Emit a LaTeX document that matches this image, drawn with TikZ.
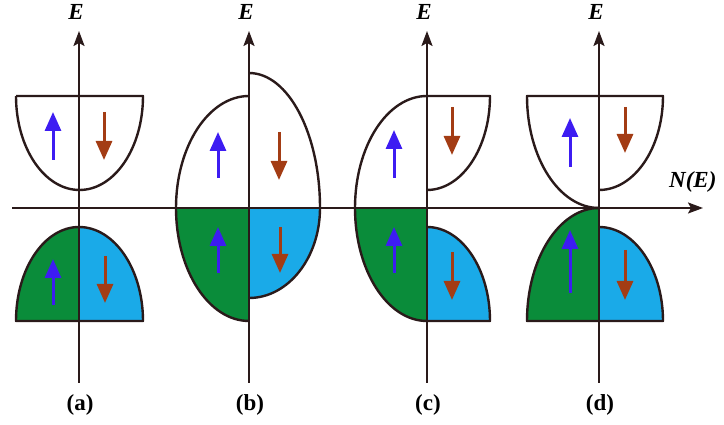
\documentclass[tikz,border=0pt]{standalone}
\usepackage{fontspec}
\setmainfont{Liberation Serif}
\usetikzlibrary{arrows.meta}
\definecolor{axiscol}{HTML}{2A1A1A}
\definecolor{spinblue}{HTML}{3D1CF2}
\definecolor{spinbrown}{HTML}{A33C14}
\definecolor{bandgreen}{HTML}{0A8C3A}
\definecolor{bandblue}{HTML}{1AAAE8}
\tikzset{
  outline/.style={draw=axiscol, line width=2.4pt, line join=round},
  axisline/.style={draw=axiscol, line width=2.2pt, -{Stealth[length=15pt,width=11pt,inset=3pt]}},
  spinup/.style={draw=spinblue, line width=3pt, -{Triangle[length=19pt,width=16pt]}, fill=spinblue},
  spindown/.style={draw=spinbrown, line width=3pt, -{Triangle[length=19pt,width=16pt]}, fill=spinbrown},
  elabel/.style={font=\fontsize{23}{25}\selectfont\bfseries\itshape, text=black, inner sep=0pt},
  panel/.style={font=\fontsize{23}{25}\selectfont\bfseries, text=black, inner sep=0pt}
}
\begin{document}
\begin{tikzpicture}[x=1pt,y=1pt]
\useasboundingbox (0,0) rectangle (724,425);
% ---------- fills ----------
% (a)
\fill[bandgreen] (16,104) arc[start angle=180,end angle=90,x radius=63,y radius=94] -- (79,104) -- cycle;
\fill[bandblue] (79,198) arc[start angle=90,end angle=0,x radius=64,y radius=94] -- (79,104) -- cycle;
% (b)
\fill[bandgreen] (176,217) arc[start angle=180,end angle=270,x radius=73,y radius=113] -- (249,217) -- cycle;
\fill[bandblue] (320,217) arc[start angle=0,end angle=-90,x radius=71,y radius=90] -- (249,217) -- cycle;
% (c)
\fill[bandgreen] (355,217) arc[start angle=180,end angle=270,x radius=72,y radius=113] -- (427,217) -- cycle;
\fill[bandblue] (427,198) arc[start angle=90,end angle=0,x radius=63,y radius=94] -- (427,104) -- cycle;
% (d)
\fill[bandgreen] (599,217) arc[start angle=90,end angle=180,x radius=72,y radius=113] -- (599,104) -- cycle;
\fill[bandblue] (599,198) arc[start angle=90,end angle=0,x radius=64,y radius=94] -- (599,104) -- cycle;
% ---------- outlines ----------
% (a)
\draw[outline] (16,329) -- (143,329) arc[start angle=0,end angle=-180,x radius=63.5,y radius=94];
\draw[outline] (16,104) arc[start angle=180,end angle=90,x radius=63,y radius=94]
  arc[start angle=90,end angle=0,x radius=64,y radius=94] -- cycle;
% (b)
\draw[outline] (249,329) arc[start angle=90,end angle=180,x radius=73,y radius=112]
  arc[start angle=180,end angle=270,x radius=73,y radius=113];
\draw[outline] (249,352) arc[start angle=90,end angle=0,x radius=71,y radius=135]
  arc[start angle=0,end angle=-90,x radius=71,y radius=90];
% (c)
\draw[outline] (427,329) arc[start angle=90,end angle=180,x radius=72,y radius=112]
  arc[start angle=180,end angle=270,x radius=72,y radius=113];
\draw[outline] (427,329) -- (490,329) arc[start angle=0,end angle=-90,x radius=63,y radius=94];
\draw[outline] (427,198) arc[start angle=90,end angle=0,x radius=63,y radius=94] -- (427,104);
% (d)
\draw[outline] (599,329) -- (527,329) arc[start angle=180,end angle=270,x radius=72,y radius=112];
\draw[outline] (599,329) -- (663,329) arc[start angle=0,end angle=-90,x radius=64,y radius=94];
\draw[outline] (599,217) arc[start angle=90,end angle=180,x radius=72,y radius=113] -- (599,104);
\draw[outline] (599,198) arc[start angle=90,end angle=0,x radius=64,y radius=94] -- (599,104);
% ---------- axes ----------
\coordinate (hstart) at (12,217);
\coordinate (hend) at (703,217);
\draw[axisline] (hstart) -- (hend);
\foreach \n/\x in {a/79,b/249,c/427,d/599}{
  \coordinate (\n bot) at (\x,42);
  \coordinate (\n top) at (\x,394);
  \draw[axisline] (\n bot) -- (\n top);
  \node[elabel] (E\n) at (\x-3,413) {E};
  \node[panel] (lab\n) at (\x+1,20) {(\n)};
}
\node[elabel, anchor=west] (NE) at (669,243) {N(E)};
% ---------- spins ----------
% (a)
\draw[spinup] (53,265) -- (53,313);
\draw[spindown] (104,313) -- (104,265);
\draw[spinup] (53,120) -- (53,166);
\draw[spindown] (105,169) -- (105,122);
% (b)
\draw[spinup] (218,247) -- (218,293);
\draw[spindown] (279,293) -- (279,245);
\draw[spinup] (218,152) -- (218,198);
\draw[spindown] (280,198) -- (280,152);
% (c)
\draw[spinup] (394,247) -- (394,295);
\draw[spindown] (452,318) -- (452,270);
\draw[spinup] (394,152) -- (394,198);
\draw[spindown] (452,173) -- (452,125);
% (d)
\draw[spinup] (570,258) -- (570,307);
\draw[spindown] (625,318) -- (625,272);
\draw[spinup] (570,132) -- (570,195);
\draw[spindown] (625,175) -- (625,125);
\end{tikzpicture}
\end{document}
